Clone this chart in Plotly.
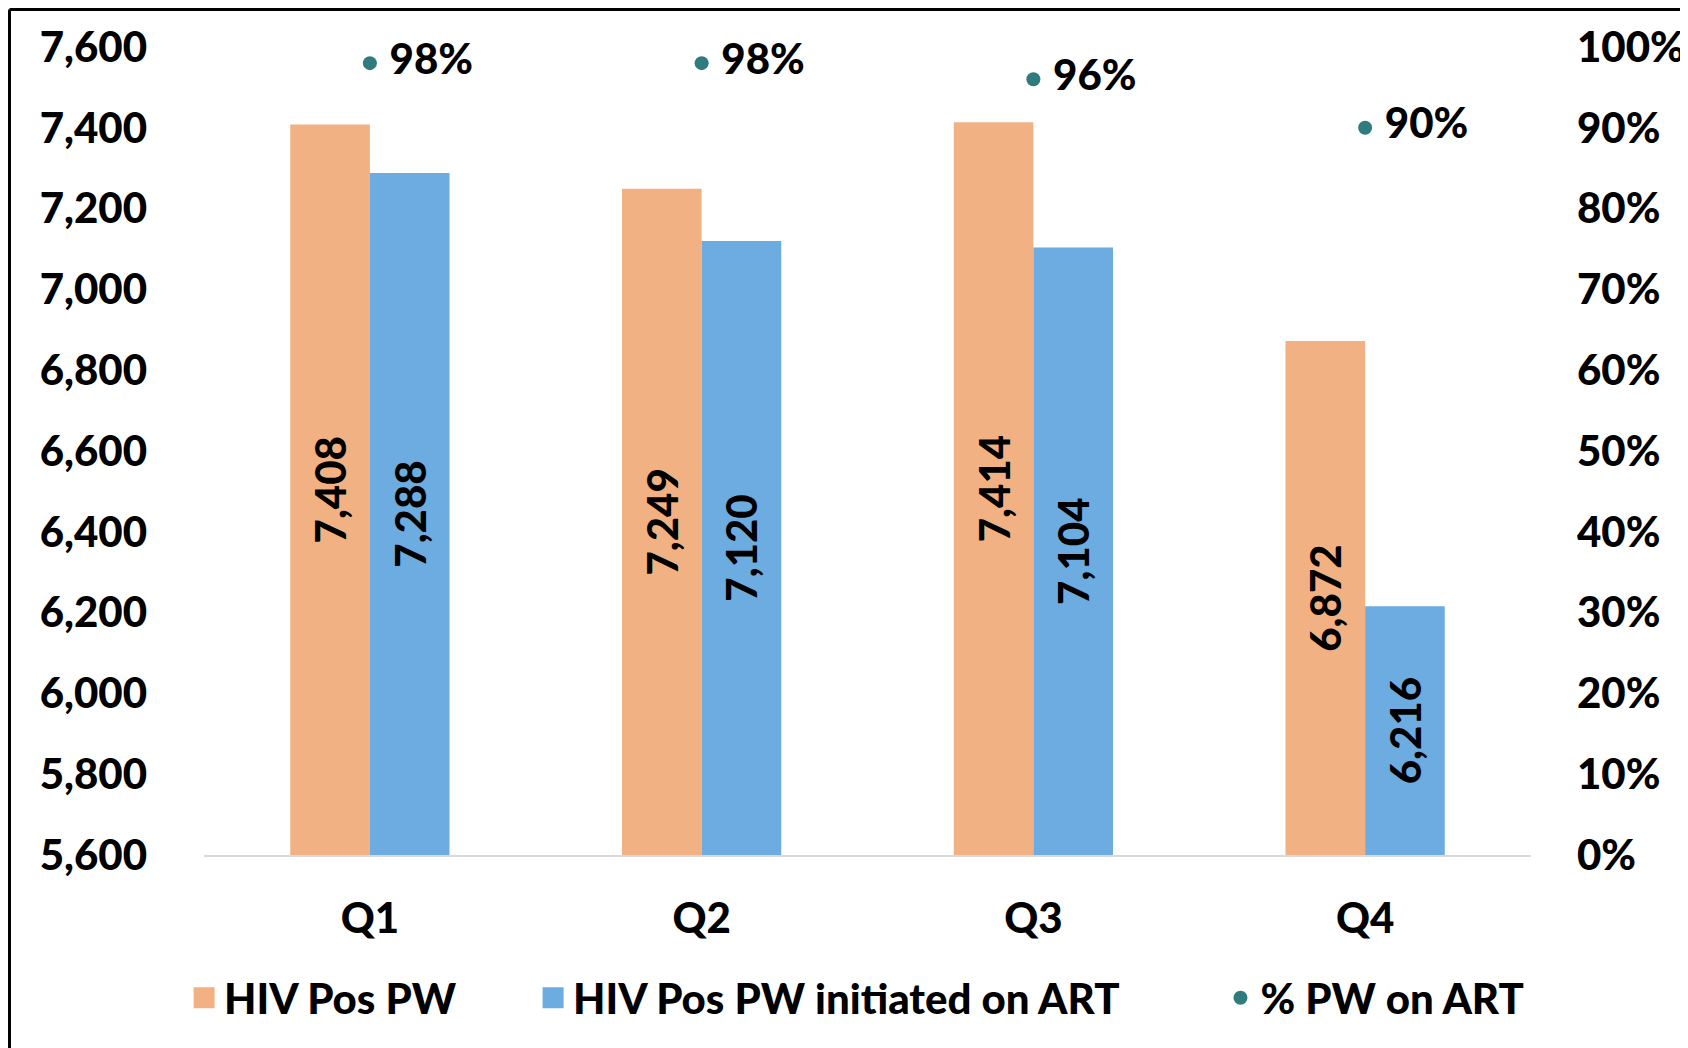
import plotly.graph_objects as go

categories = ["Q1", "Q2", "Q3", "Q4"]
hiv_pos_pw = [7408, 7249, 7414, 6872]
hiv_pos_art = [7288, 7120, 7104, 6216]
pct_on_art = [0.98, 0.98, 0.96, 0.90]
pct_labels = ["98%", "98%", "96%", "90%"]
left_ticks = [5600, 5800, 6000, 6200, 6400, 6600, 6800, 7000, 7200, 7400, 7600]
right_ticks = [0, 0.1, 0.2, 0.3, 0.4, 0.5, 0.6, 0.7, 0.8, 0.9, 1.0]
AXIS_MIN, AXIS_MAX = 5600, 7600

FONT = "Lato"
FS = 42
ORANGE = "#F2B183"
BLUE = "#6DACE0"
TEAL = "#2F7B7D"
NB = "\u00a0"

bold = dict(family=FONT, size=FS, color="black", weight=900)

fig = go.Figure()
for vals, name, color, lg in [
    (hiv_pos_pw, "HIV Pos PW", ORANGE, "legend"),
    (hiv_pos_art, "HIV Pos PW initiated on ART", BLUE, "legend2"),
]:
    fig.add_trace(go.Bar(
        x=categories, y=[v - AXIS_MIN for v in vals], base=AXIS_MIN, name=name,
        marker=dict(color=color, line=dict(width=0)),
        text=[f"{v:,}" for v in vals], textposition="inside",
        insidetextanchor="middle", textangle=-90, textfont=bold,
        showlegend=False, legendgroup=name,
    ))
    # legend entry (larger square symbol)
    fig.add_trace(go.Scatter(
        x=[None], y=[None], mode="markers", name=name, legend=lg, legendgroup=name,
        marker=dict(symbol="square", color=color, size=16,
                    line=dict(color=color, width=5)),
    ))

fig.add_trace(go.Scatter(
    x=categories, y=pct_on_art, name="% PW on ART", yaxis="y2", legend="legend3",
    mode="markers+text", marker=dict(color=TEAL, size=14),
    text=[NB + t for t in pct_labels], textposition="middle right",
    textfont=bold, cliponaxis=False,
))

W, H = 1680, 1040
ML, MR, MT, MB = 196, 157, 39, 193
pw, ph = W - ML - MR, H - MT - MB

leg_common = dict(orientation="h", y=-0.177, yanchor="middle", xanchor="left",
                  font=bold, itemsizing="trace", bgcolor="rgba(0,0,0,0)")

fig.update_layout(
    width=W, height=H,
    margin=dict(l=ML, r=MR, t=MT, b=MB, autoexpand=False),
    paper_bgcolor="white", plot_bgcolor="white",
    font=bold,
    barmode="group", bargap=0.52, bargroupgap=0,
    showlegend=True,
    legend=dict(x=-0.015, **leg_common),
    legend2=dict(x=0.248, **leg_common),
    legend3=dict(x=0.766, **leg_common),
    xaxis=dict(showgrid=False, showline=True, linecolor="#D9D9D9", linewidth=2,
               ticks="", ticklabelstandoff=26, tickfont=bold, automargin=False),
    yaxis=dict(range=[AXIS_MIN, AXIS_MAX], tickvals=left_ticks, tickformat=",",
               showgrid=False, zeroline=False, showline=False, ticks="",
               ticklabelstandoff=56, tickfont=bold, automargin=False),
    yaxis2=dict(range=[0, 1], tickvals=right_ticks, tickformat=".0%",
                overlaying="y", side="right", showgrid=False, zeroline=False,
                showline=False, ticks="", ticklabelstandoff=45, tickfont=bold,
                automargin=False),
    shapes=[
        dict(type="line", xref="paper", yref="paper",
             x0=(1.5 - ML) / pw, x1=(1.5 - ML) / pw,
             y0=-(MB + 5) / ph, y1=1 + (MT - 1.5) / ph,
             line=dict(color="black", width=3)),
        dict(type="line", xref="paper", yref="paper",
             x0=(1.5 - ML) / pw, x1=1 + (MR + 5) / pw,
             y0=1 + (MT - 1.5) / ph, y1=1 + (MT - 1.5) / ph,
             line=dict(color="black", width=3)),
    ],
)

fig.write_html("out.html")
